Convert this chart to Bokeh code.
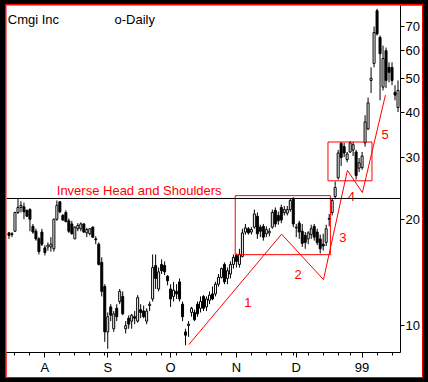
import pandas as pd
from bokeh.plotting import figure
from bokeh.layouts import column
from bokeh.models import (Range1d, FixedTicker, PrintfTickFormatter, Span, Label,
                          ColumnDataSource)
from bokeh.embed import file_html
from bokeh.resources import INLINE
from bokeh.core.properties import value

# ---------------- data ----------------
first_day = "1998-07-16"
last_day = "1999-01-21"
holidays = ["1998-09-07", "1998-11-26", "1998-12-25", "1999-01-01", "1999-01-18"]
month_labels = ["A", "S", "O", "N", "D", "99"]
price_ticks = [10, 20, 30, 40, 50, 60, 70]

open_ = [18.3, 18.1, 18.5, 20.9, 21.6, 21.7, 21.2, 21.3, 19.1, 18.5,
         17.6, 18.4, 16.6, 16.7, 16.7, 16.5, 20.0, 22.4, 20.5, 20.9,
         19.8, 19.4, 17.6, 18.8, 18.8, 19.4, 18.3, 18.2, 19.0, 17.6,
         17.0, 15.1, 12.9, 9.6, 11.3, 9.8, 11.2, 11.7, 12.1, 9.8,
         10.5, 10.3, 10.6, 10.3, 11.1, 11.0, 10.3, 11.4, 11.9, 14.8,
         12.7, 14.9, 14.8, 13.8, 12.7, 12.1, 12.5, 13.3, 11.5, 9.6,
         10.0, 10.9, 10.9, 11.5, 11.2, 12.1, 11.3, 11.8, 12.3, 12.3,
         13.1, 13.7, 14.9, 13.6, 14.0, 14.9, 15.8, 14.9, 15.7, 18.4,
         18.8, 18.4, 19.0, 20.4, 19.0, 19.1, 18.2, 18.3, 19.0, 21.2,
         20.5, 21.6, 20.9, 20.8, 21.3, 22.8, 18.9, 19.5, 18.5, 18.0,
         17.6, 18.1, 19.1, 18.4, 17.6, 17.0, 17.2, 20.0, 20.9, 23.2,
         26.2, 32.8, 32.1, 29.5, 31.0, 31.4, 31.0, 27.9, 28.0, 32.9,
         36.0, 49.4, 55.2, 77.8, 65.4, 47.3, 60.0, 53.8, 53.8, 45.7,
         41.4]
high = [18.4, 18.4, 21.0, 22.9, 22.5, 22.3, 21.3, 21.5, 19.4, 18.8,
        17.8, 18.8, 16.9, 17.2, 17.8, 20.1, 22.6, 22.5, 20.7, 21.2,
        20.1, 19.8, 19.1, 19.5, 19.6, 19.5, 18.9, 18.9, 19.1, 17.9,
        17.2, 15.6, 13.1, 10.9, 11.5, 11.0, 11.5, 12.7, 12.5, 10.3,
        10.7, 10.8, 11.0, 12.2, 11.5, 11.4, 11.2, 11.7, 15.9, 15.9,
        14.6, 15.4, 15.2, 13.9, 13.1, 13.3, 13.1, 13.6, 11.7, 9.8,
        10.3, 11.3, 11.1, 11.7, 12.1, 12.2, 12.1, 12.5, 12.9, 13.3,
        14.0, 14.6, 15.1, 14.6, 15.2, 15.9, 16.0, 16.5, 18.8, 19.4,
        19.0, 19.0, 21.3, 20.9, 19.3, 19.4, 19.1, 18.9, 21.3, 21.6,
        21.0, 22.0, 21.8, 21.8, 22.9, 23.1, 19.4, 19.8, 19.4, 18.4,
        18.5, 19.3, 19.4, 18.8, 18.1, 18.2, 19.3, 20.7, 22.9, 25.6,
        31.4, 33.1, 32.9, 31.0, 33.3, 33.1, 31.4, 29.8, 31.0, 39.4,
        44.2, 53.8, 70.2, 78.8, 66.2, 62.0, 61.2, 55.6, 55.6, 47.9,
        49.4]
low = [17.6, 17.8, 18.4, 20.7, 20.9, 20.0, 20.3, 18.5, 18.2, 17.4,
       15.9, 16.8, 15.8, 16.3, 16.2, 16.2, 19.8, 20.8, 19.8, 19.6,
       18.3, 18.1, 17.6, 18.5, 18.5, 18.3, 17.8, 18.0, 17.7, 17.0,
       14.8, 12.1, 9.0, 8.6, 10.3, 9.6, 10.3, 11.5, 10.7, 9.5,
       9.8, 9.8, 10.1, 10.2, 10.5, 10.5, 10.1, 11.0, 11.7, 12.7,
       12.5, 14.0, 13.9, 13.0, 11.3, 11.7, 11.9, 11.7, 10.3, 8.8,
       9.3, 10.6, 10.3, 10.6, 10.9, 11.0, 11.0, 11.5, 11.8, 12.1,
       12.9, 13.6, 13.1, 13.1, 13.6, 14.5, 14.6, 14.6, 15.6, 18.1,
       18.1, 18.1, 18.8, 17.6, 17.8, 17.4, 17.8, 17.9, 18.8, 19.0,
       19.3, 19.5, 20.5, 20.5, 21.0, 19.0, 17.8, 17.6, 16.7, 16.5,
       17.0, 17.6, 17.4, 16.9, 16.0, 16.3, 16.8, 19.1, 20.5, 22.8,
       25.9, 28.3, 30.0, 29.0, 30.8, 30.2, 25.9, 27.2, 27.6, 32.1,
       35.8, 45.5, 53.8, 66.2, 43.4, 46.3, 47.0, 48.8, 47.9, 43.4,
       40.2]
close = [18.0, 18.2, 20.9, 21.6, 21.9, 21.0, 20.4, 20.0, 18.4, 17.6,
         16.2, 17.0, 16.1, 16.9, 17.0, 20.0, 21.9, 21.0, 19.9, 19.7,
         18.5, 18.2, 19.0, 19.2, 19.4, 18.4, 18.7, 18.8, 17.8, 17.5,
         14.9, 12.5, 9.6, 10.6, 10.7, 10.8, 10.6, 12.5, 10.8, 10.0,
         10.1, 10.7, 10.5, 12.0, 10.9, 10.6, 11.0, 11.5, 14.6, 13.6,
         14.2, 14.3, 14.2, 13.4, 11.9, 12.6, 12.3, 11.9, 10.6, 9.4,
         10.1, 11.2, 10.4, 10.8, 11.7, 11.2, 11.9, 12.2, 11.9, 13.1,
         13.7, 14.5, 13.3, 14.3, 14.9, 15.6, 15.2, 15.9, 18.3, 18.9,
         18.3, 18.7, 20.7, 18.2, 18.5, 17.8, 18.7, 18.5, 20.9, 19.4,
         19.8, 19.9, 21.3, 21.3, 22.6, 19.4, 19.0, 18.4, 17.1, 17.2,
         18.3, 18.8, 17.8, 17.2, 16.5, 16.8, 18.8, 20.1, 22.6, 24.6,
         30.8, 29.9, 30.8, 30.6, 32.9, 32.5, 26.6, 28.9, 30.2, 37.7,
         42.7, 50.1, 67.5, 66.9, 58.8, 57.0, 49.4, 52.1, 49.4, 44.9,
         46.3]

# annotations (trading-day index, price)
neckline = 22.9
wave_idx = [60.1, 91.1, 105.1, 113.1, 118.1, 125.8]
wave_price = [8.84, 18.15, 13.5, 27.5, 23.8, 44.9]
wave_text = ["1", "2", "3", "4", "5"]
wave_text_idx = [79.8, 96.6, 111.6, 114.4, 125.7]
wave_text_price = [11.61, 13.92, 17.71, 23.2, 34.64]
box_left = [75.6, 106.6]
box_right = [107.4, 121.3]
box_bottom = [15.88, 25.69]
box_top = [23.33, 33.08]

# ---------------- build ----------------
days = pd.bdate_range(first_day, last_day)
days = days[~days.isin(pd.to_datetime(holidays))]
idx = list(range(len(days)))
month_starts = [i for i in idx[1:] if days[i].month != days[i - 1].month]
week_starts = [i for i in idx[1:] if days[i].isocalendar()[1] != days[i - 1].isocalendar()[1]]

FONT = "Liberation Sans"
RED = "#ff0000"

p = figure(width=416, height=372, output_backend="svg", toolbar_location=None,
           y_axis_type="log", y_axis_location="right",
           x_range=Range1d(-0.8333, 130.8333), y_range=Range1d(8.396, 80.5),
           min_border_left=0, min_border_top=0, min_border_right=21, min_border_bottom=23,
           background_fill_color="white", border_fill_color="white",
           margin=(1, 1, 1, 1))
p.outline_line_color = None
p.xgrid.visible = False
p.ygrid.visible = False

# x axis
p.xaxis.ticker = FixedTicker(ticks=month_starts, minor_ticks=week_starts)
p.xaxis.major_label_overrides = {m: lab for m, lab in zip(month_starts, month_labels)}
p.xaxis.major_tick_out = 5
p.xaxis.major_tick_in = 0
p.xaxis.minor_tick_out = 3
p.xaxis.minor_tick_in = 0
p.xaxis.major_label_standoff = 2
p.xaxis.axis_line_color = "black"
p.xaxis.major_tick_line_color = "black"
p.xaxis.minor_tick_line_color = "black"
p.xaxis.major_label_text_font = FONT
p.xaxis.major_label_text_font_size = "13px"
p.xaxis.major_label_text_color = "black"

# y axis
p.yaxis.ticker = FixedTicker(ticks=price_ticks, minor_ticks=[])
p.yaxis.formatter = PrintfTickFormatter(format="%d")
p.yaxis.major_tick_out = 4
p.yaxis.major_tick_in = 0
p.yaxis.minor_tick_out = 0
p.yaxis.minor_tick_in = 0
p.yaxis.major_label_standoff = 1
p.yaxis.axis_line_color = "black"
p.yaxis.major_tick_line_color = "black"
p.yaxis.major_label_text_font = FONT
p.yaxis.major_label_text_font_size = "13px"
p.yaxis.major_label_text_color = "black"

# candles
src = ColumnDataSource(dict(
    i=idx, o=open_, h=high, l=low, c=close,
    top=[max(a, b) for a, b in zip(open_, close)],
    bottom=[min(a, b) for a, b in zip(open_, close)],
    fill=["white" if c >= o else "black" for o, c in zip(open_, close)],
))
p.segment(x0="i", y0="l", x1="i", y1="h", source=src, line_color="black", line_width=1)
p.vbar(x="i", width=0.667, top="top", bottom="bottom", source=src,
       fill_color="fill", line_color="black", line_width=1)

# neckline
p.add_layout(Span(location=neckline, dimension="width", line_color="black", line_width=1))

# red annotations
p.quad(left=box_left, right=box_right, bottom=box_bottom, top=box_top,
       fill_color=None, line_color=RED, line_width=1)
p.line(wave_idx, wave_price, line_color=RED, line_width=1)
p.text(x=wave_text_idx, y=wave_text_price, text=wave_text, text_color=RED,
       text_font=value(FONT), text_font_size="13px", text_align="center",
       text_baseline="alphabetic")

p.add_layout(Label(x=15.97, y=24.05, text="Inverse Head and Shoulders", text_color=RED,
                   text_font=FONT, text_font_size="13px", text_baseline="alphabetic"))
p.add_layout(Label(x=-0.4, y=73.65, text="Cmgi Inc", text_color="black",
                   text_font=FONT, text_font_size="13px", text_baseline="alphabetic"))
p.add_layout(Label(x=35.27, y=73.65, text="o-Daily", text_color="black",
                   text_font=FONT, text_font_size="13px", text_baseline="alphabetic"))

# window frame: red rule inside a black edge
inner = column(p, background=RED, margin=(4, 5, 4, 5), spacing=0)
page = column(inner, background="black", margin=(0, 0, 0, 0), spacing=0)

open("out.html", "w").write(file_html(page, INLINE))
